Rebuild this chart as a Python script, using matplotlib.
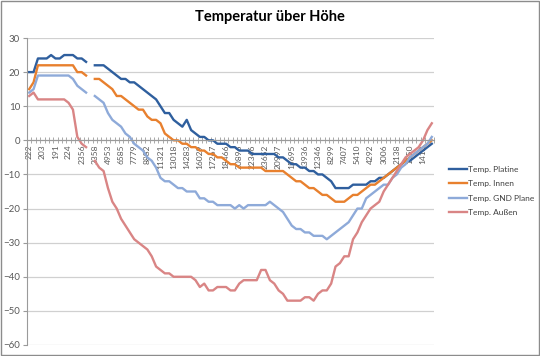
import matplotlib
matplotlib.use("Agg")
import matplotlib.pyplot as plt
import numpy as np

plt.rcParams['font.family'] = ['Lato', 'DejaVu Sans']

nan = np.nan

# Hoehe (x-axis labels, every 3rd category)
hoehe_labels = ['222', '203', '191', '224', '2356', '3358', '4953', '6585', '7779', '8882',
                '11321', '13018', '14283', '16029', '17267', '18466', '20896', '22346', '23652', '20997',
                '15695', '13936', '12346', '8299', '7407', '5410', '4292', '3006', '2138', '1650',
                '1412']

temp_platine = [20, 20, 24, 24, 24, 25, 24, 24, 25, 25,
                25, 24, 24, 23, nan, 22, 22, 22, 21, 20,
                19, 18, 18, 17, 17, 16, 15, 14, 13, 12,
                10, 8, 8, 6, 5, 4, 6, 3, 2, 1,
                1, 0, 0, -1, -1, -1, -2, -2, -3, -3,
                -3, -4, -4, -4, -4, -4, -4, -5, -5, -6,
                -7, -7, -8, -8, -9, -9, -10, -10, -11, -12,
                -14, -14, -14, -14, -13, -13, -13, -13, -12, -12,
                -11, -11, -10, -9, -8, -7, -6, -6, -5, -4,
                -3, -2, -1]

temp_innen = [15, 17, 22, 22, 22, 22, 22, 22, 22, 22,
              22, 20, 20, 19, nan, 18, 18, 17, 16, 15,
              13, 13, 12, 11, 10, 9, 9, 7, 6, 6,
              5, 2, 1, 0, 0, -1, -1, -2, -2, -3,
              -3, -4, -4, -5, -5, -6, -7, -7, -8, -8,
              -8, -8, -8, -8, -9, -9, -9, -9, -9, -10,
              -11, -12, -12, -13, -14, -14, -15, -16, -16, -17,
              -18, -18, -18, -17, -16, -16, -15, -14, -13, -13,
              -12, -11, -10, -9, -8, -7, -6, -5, -4, -3,
              -2, -1, 0]

temp_gnd = [14, 15, 19, 19, 19, 19, 19, 19, 19, 19,
            18, 16, 15, 14, nan, 13, 12, 11, 8, 6,
            5, 4, 2, 1, -1, -2, -3, -5, -6, -8,
            -11, -12, -12, -13, -14, -14, -15, -15, -15, -17,
            -17, -18, -18, -19, -19, -19, -19, -20, -19, -20,
            -19, -19, -19, -19, -19, -18, -19, -20, -21, -23,
            -25, -26, -26, -27, -27, -28, -28, -28, -29, -28,
            -27, -26, -25, -24, -22, -20, -20, -17, -16, -15,
            -14, -13, -13, -11, -10, -8, -7, -5, -4, -3,
            -2, -1, 1]

temp_aussen = [13, 14, 12, 12, 12, 12, 12, 12, 12, 11,
               9, 1, -1, -2, nan, -6, -8, -9, -14, -18,
               -20, -23, -25, -27, -29, -30, -31, -32, -34, -37,
               -38, -39, -39, -40, -40, -40, -40, -40, -41, -43,
               -42, -44, -44, -43, -43, -43, -44, -44, -42, -41,
               -41, -41, -41, -38, -38, -41, -42, -44, -45, -47,
               -47, -47, -47, -46, -46, -47, -45, -44, -44, -42,
               -37, -36, -34, -34, -29, -27, -24, -22, -20, -19,
               -18, -15, -13, -11, -9, -7, -5, -4, -3, -2,
               0, 3, 5]

series = [('Temp. Platine', temp_platine, '#2f5f9e'),
          ('Temp. Innen', temp_innen, '#e8802e'),
          ('Temp. GND Plane', temp_gnd, '#8eaad9'),
          ('Temp. Außen', temp_aussen, '#d98585')]

W, H = 540, 356
fig = plt.figure(figsize=(W / 100, H / 100), dpi=100)
ax = fig.add_axes([27 / W, 1 - 345 / H, (434 - 27) / W, (345 - 38) / H])

n = len(temp_platine)
x = np.arange(n)
for name, vals, col in series:
    ax.plot(x, vals, color=col, lw=1.7, label=name, solid_joinstyle='round')

ax.set_xlim(-0.5, n - 0.5)
ax.set_ylim(-60, 30)
ax.set_yticks(np.arange(-60, 31, 10))
ax.yaxis.grid(True, color='#d0d0d0', lw=0.9)
ax.set_axisbelow(True)

ax.spines['top'].set_visible(False)
ax.spines['right'].set_visible(False)
ax.spines['left'].set_color('#9a9a9a')
ax.spines['bottom'].set_position(('data', 0))
ax.spines['bottom'].set_color('#9a9a9a')

ax.set_xticks(np.arange(0, n, 3))
ax.set_xticklabels(hoehe_labels, rotation=90, fontsize=6, color='#595959')
ax.set_xticks(np.arange(-0.5, n, 1), minor=True)
ax.tick_params(axis='x', which='major', length=0, pad=3)
ax.tick_params(axis='x', which='minor', length=4, direction='inout', color='#9a9a9a')
ax.tick_params(axis='y', length=3, color='#9a9a9a', labelsize=7, labelcolor='#595959', pad=2)

fig.text(0.5, 1 - 17 / H, 'Temperatur über Höhe', ha='center', va='center',
         fontsize=10.5, fontweight='bold', color='#000000')

fig.legend(loc='center left', bbox_to_anchor=(441 / W, 1 - 191 / H), frameon=False,
           fontsize=6, handlelength=2.2, handletextpad=0.2, labelspacing=0.9,
           labelcolor='#404040')

fig.add_artist(plt.Rectangle((0.001, 0.002), 0.997, 0.995, transform=fig.transFigure,
                             fill=False, ec='#8c8c8c', lw=1))

fig.savefig('out.png', dpi=100)
